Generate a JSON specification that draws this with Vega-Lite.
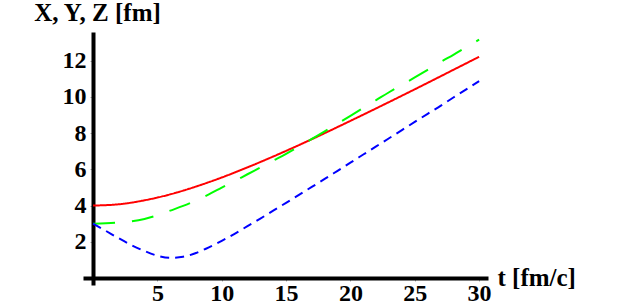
{
  "$schema": "https://vega.github.io/schema/vega-lite/v6.json",
  "autosize": "none",
  "padding": {"left": 83, "top": 32, "right": 135, "bottom": 22},
  "width": 405,
  "height": 253,
  "background": "white",
  "config": {"view": {"stroke": null}},
  "data": {"values": [
    {"t":0,"v":4.0,"s":"X"},{"t":2,"v":4.07,"s":"X"},{"t":4,"v":4.29,"s":"X"},{"t":6,"v":4.62,"s":"X"},{"t":8,"v":5.05,"s":"X"},{"t":10,"v":5.55,"s":"X"},{"t":12,"v":6.11,"s":"X"},{"t":14,"v":6.71,"s":"X"},{"t":16,"v":7.34,"s":"X"},{"t":18,"v":8.0,"s":"X"},{"t":20,"v":8.68,"s":"X"},{"t":22,"v":9.37,"s":"X"},{"t":24,"v":10.07,"s":"X"},{"t":26,"v":10.78,"s":"X"},{"t":28,"v":11.5,"s":"X"},{"t":30,"v":12.22,"s":"X"},
    {"t":0,"v":3.0,"s":"Y"},{"t":1,"v":3.02,"s":"Y"},{"t":2,"v":3.06,"s":"Y"},{"t":3,"v":3.13,"s":"Y"},{"t":4,"v":3.26,"s":"Y"},{"t":5,"v":3.46,"s":"Y"},{"t":6,"v":3.72,"s":"Y"},{"t":7,"v":3.98,"s":"Y"},{"t":8,"v":4.28,"s":"Y"},{"t":9,"v":4.62,"s":"Y"},{"t":10,"v":4.99,"s":"Y"},{"t":11,"v":5.35,"s":"Y"},{"t":12,"v":5.73,"s":"Y"},{"t":13,"v":6.1,"s":"Y"},{"t":14,"v":6.48,"s":"Y"},{"t":15,"v":6.86,"s":"Y"},{"t":16,"v":7.26,"s":"Y"},{"t":17,"v":7.68,"s":"Y"},{"t":18,"v":8.1,"s":"Y"},{"t":19,"v":8.53,"s":"Y"},{"t":20,"v":8.96,"s":"Y"},{"t":21,"v":9.4,"s":"Y"},{"t":22,"v":9.83,"s":"Y"},{"t":23,"v":10.26,"s":"Y"},{"t":24,"v":10.67,"s":"Y"},{"t":25,"v":11.08,"s":"Y"},{"t":26,"v":11.5,"s":"Y"},{"t":27,"v":11.93,"s":"Y"},{"t":28,"v":12.33,"s":"Y"},{"t":29,"v":12.75,"s":"Y"},{"t":30,"v":13.17,"s":"Y"},
    {"t":0,"v":3.0,"s":"Z"},{"t":1,"v":2.6,"s":"Z"},{"t":2,"v":2.19,"s":"Z"},{"t":3,"v":1.81,"s":"Z"},{"t":4,"v":1.49,"s":"Z"},{"t":5,"v":1.23,"s":"Z"},{"t":6,"v":1.11,"s":"Z"},{"t":7,"v":1.17,"s":"Z"},{"t":8,"v":1.38,"s":"Z"},{"t":9,"v":1.69,"s":"Z"},{"t":10,"v":2.05,"s":"Z"},{"t":11,"v":2.44,"s":"Z"},{"t":12,"v":2.86,"s":"Z"},{"t":13,"v":3.28,"s":"Z"},{"t":14,"v":3.72,"s":"Z"},{"t":15,"v":4.15,"s":"Z"},{"t":16,"v":4.59,"s":"Z"},{"t":17,"v":5.03,"s":"Z"},{"t":18,"v":5.47,"s":"Z"},{"t":19,"v":5.92,"s":"Z"},{"t":20,"v":6.37,"s":"Z"},{"t":21,"v":6.82,"s":"Z"},{"t":22,"v":7.27,"s":"Z"},{"t":23,"v":7.72,"s":"Z"},{"t":24,"v":8.17,"s":"Z"},{"t":25,"v":8.62,"s":"Z"},{"t":26,"v":9.07,"s":"Z"},{"t":27,"v":9.51,"s":"Z"},{"t":28,"v":9.97,"s":"Z"},{"t":29,"v":10.42,"s":"Z"},{"t":30,"v":10.88,"s":"Z"}
  ]},
  "mark": {"type": "line", "interpolate": "monotone", "strokeWidth": 2},
  "encoding": {
    "x": {
      "field": "t", "type": "quantitative",
      "scale": {"domain": [-0.78, 30.69], "nice": false, "zero": false},
      "axis": {
        "values": [5, 10, 15, 20, 25, 30],
        "offset": -7,
        "grid": false,
        "domainColor": "black", "domainWidth": 4,
        "tickColor": "#aaaaaa", "tickSize": 3, "tickWidth": 1,
        "labelFont": "Liberation Serif", "labelFontWeight": "bold", "labelFontSize": 24, "labelColor": "black",
        "labelPadding": 0,
        "title": "t [fm/c]",
        "titleFont": "Liberation Serif", "titleFontWeight": "bold", "titleFontSize": 25, "titleColor": "black",
        "titleAlign": "left", "titleBaseline": "alphabetic", "titleAngle": 0,
        "titleX": 414, "titleY": 7
      }
    },
    "y": {
      "field": "v", "type": "quantitative",
      "scale": {"domain": [-0.39, 13.59], "nice": false, "zero": false},
      "axis": {
        "values": [2, 4, 6, 8, 10, 12],
        "offset": -10,
        "grid": false,
        "domainColor": "black", "domainWidth": 4,
        "tickColor": "#aaaaaa", "tickSize": 3, "tickWidth": 1,
        "labelFont": "Liberation Serif", "labelFontWeight": "bold", "labelFontSize": 24, "labelColor": "black",
        "labelPadding": 4,
        "title": "X, Y, Z [fm]",
        "titleFont": "Liberation Serif", "titleFontWeight": "bold", "titleFontSize": 25, "titleColor": "black",
        "titleAlign": "center", "titleBaseline": "alphabetic", "titleAngle": 0,
        "titleX": 4, "titleY": -12
      }
    },
    "color": {
      "field": "s", "type": "nominal",
      "scale": {"domain": ["X", "Y", "Z"], "range": ["#ff0000", "#00ff00", "#0000ff"]},
      "legend": null
    },
    "strokeDash": {
      "field": "s", "type": "nominal",
      "scale": {"domain": ["X", "Y", "Z"], "range": [[1, 0], [22, 17], [9, 6]]},
      "legend": null
    }
  }
}
